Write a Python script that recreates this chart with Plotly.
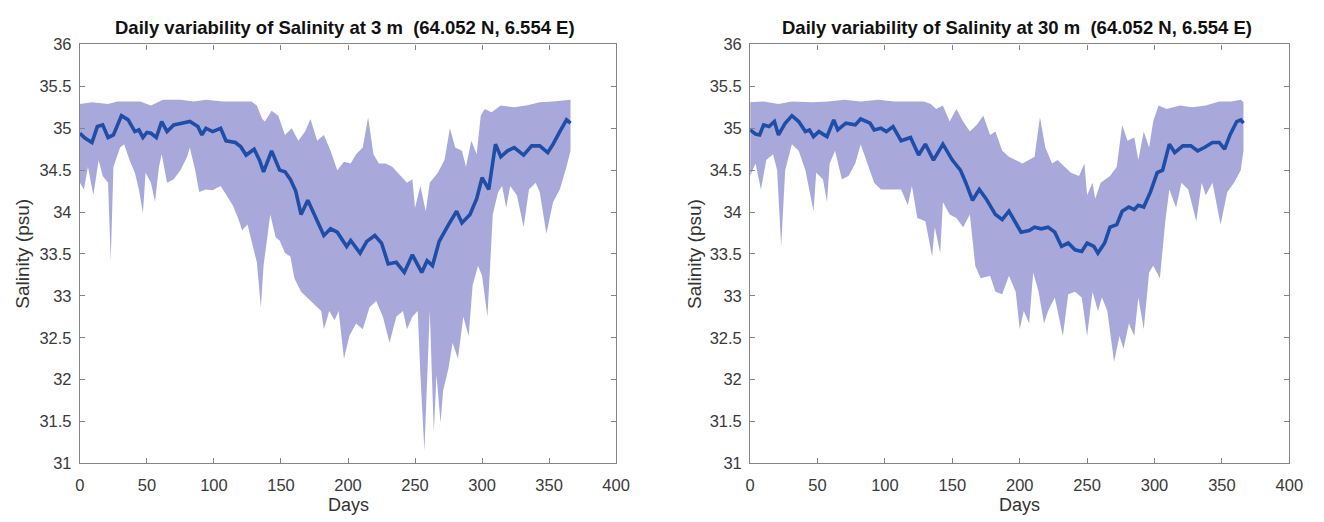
import plotly.graph_objects as go

# ---------------- Left panel: 3 m ----------------
l_mean_day = [0, 4, 9, 13, 17, 21, 25, 28, 31, 36, 41, 44, 47, 50, 53, 57, 61, 65, 70, 76, 82, 88, 91, 94, 99, 105,
              109, 116, 120, 124, 130, 134, 137, 143, 149, 153, 157, 161, 165, 170, 176, 182, 187, 192, 199, 202,
              209, 214, 220, 225, 230, 236, 242, 248, 255, 259, 263, 268, 275, 281, 285, 291, 296, 300, 305, 310,
              314, 319, 324, 331, 337, 343, 349, 353, 358, 363, 366]
l_mean = [34.94, 34.88, 34.83, 35.02, 35.04, 34.89, 34.92, 35.05, 35.15, 35.10, 34.96, 34.98, 34.89, 34.95, 34.94,
          34.89, 35.08, 34.96, 35.04, 35.06, 35.08, 35.02, 34.92, 35.00, 34.96, 35.00, 34.85, 34.83, 34.78, 34.68,
          34.75, 34.62, 34.48, 34.73, 34.50, 34.48, 34.39, 34.25, 33.97, 34.14, 33.92, 33.72, 33.80, 33.76, 33.59,
          33.66, 33.51, 33.65, 33.72, 33.63, 33.38, 33.40, 33.28, 33.49, 33.28, 33.42, 33.36, 33.65, 33.85, 34.01,
          33.87, 33.97, 34.16, 34.41, 34.27, 34.81, 34.66, 34.73, 34.77, 34.68, 34.79, 34.79, 34.71, 34.81, 34.96,
          35.10, 35.06]

l_up_day = [0, 9, 21, 28, 36, 45, 53, 62, 75, 85, 94, 107, 119, 128, 132, 136, 138, 143, 148, 153, 158, 163, 168,
            172, 177, 182, 187, 192, 197, 202, 206, 211, 215, 219, 223, 228, 233, 239, 244, 248, 250, 254, 258, 261,
            267, 272, 276, 280, 285, 288, 292, 296, 299, 302, 307, 314, 324, 333, 343, 353, 363, 366]
l_up = [35.29, 35.31, 35.29, 35.32, 35.32, 35.32, 35.27, 35.34, 35.34, 35.32, 35.34, 35.32, 35.32, 35.32, 35.27,
        35.11, 35.08, 35.21, 35.15, 34.92, 35.00, 34.85, 34.96, 35.11, 34.85, 34.92, 34.73, 34.50, 34.60, 34.58,
        34.69, 34.77, 35.13, 34.69, 34.58, 34.58, 34.54, 34.43, 34.35, 34.39, 34.05, 34.31, 34.01, 34.35, 34.47,
        34.62, 35.00, 34.77, 34.73, 34.54, 34.85, 34.69, 35.15, 35.23, 35.19, 35.27, 35.25, 35.27, 35.31, 35.32,
        35.34, 35.34]

l_lo_day = [0, 3, 6, 10, 14, 17, 21, 23, 25, 30, 33, 37, 41, 44, 47, 49, 53, 56, 59, 61, 65, 70, 75, 80, 82, 86,
            89, 94, 99, 105, 109, 114, 118, 121, 125, 129, 132, 135, 137, 142, 146, 149, 153, 157, 160, 165, 170,
            175, 180, 182, 186, 190, 193, 197, 201, 206, 211, 216, 221, 226, 231, 236, 241, 244, 248, 252, 254, 257,
            259, 261, 264, 266, 269, 271, 275, 278, 282, 286, 290, 293, 297, 300, 304, 308, 312, 315, 318, 321, 326,
            331, 335, 340, 343, 348, 353, 358, 363, 366]
l_lo = [34.35, 34.27, 34.54, 34.20, 34.62, 34.43, 34.35, 33.42, 34.54, 34.77, 34.81, 34.62, 34.47, 34.27, 33.99,
        34.47, 34.35, 34.12, 34.54, 34.69, 34.35, 34.39, 34.50, 34.66, 34.77, 34.50, 34.24, 34.27, 34.26, 34.31,
        34.20, 34.08, 33.93, 33.78, 33.85, 33.59, 33.40, 32.86, 33.36, 33.97, 33.70, 33.66, 33.51, 33.47, 33.21,
        33.05, 32.98, 32.90, 32.82, 32.60, 32.82, 32.71, 32.82, 32.25, 32.52, 32.67, 32.60, 32.86, 32.94, 32.75,
        32.44, 32.75, 32.82, 32.60, 32.75, 32.82, 32.06, 31.15, 32.06, 32.82, 31.37, 32.06, 31.49, 31.87, 32.14,
        32.44, 32.25, 32.75, 32.52, 33.13, 33.36, 33.24, 32.75, 33.97, 34.24, 34.31, 34.05, 34.31, 34.20, 33.82,
        34.27, 34.35, 34.24, 33.74, 34.12, 34.27, 34.54, 34.73]

# ---------------- Right panel: 30 m ----------------
r_mean_day = [0, 4, 7, 10, 14, 18, 21, 26, 31, 36, 41, 44, 47, 51, 54, 57, 62, 65, 71, 78, 82, 89, 92, 97, 101, 106,
              112, 119, 125, 130, 136, 143, 150, 156, 160, 165, 170, 175, 182, 187, 192, 196, 201, 207, 211, 216,
              221, 226, 231, 236, 241, 246, 250, 255, 258, 263, 267, 272, 276, 281, 285, 288, 292, 297, 302, 306,
              311, 315, 321, 327, 332, 337, 343, 348, 352, 356, 361, 364, 366]
r_mean = [34.98, 34.93, 34.92, 35.04, 35.02, 35.08, 34.92, 35.06, 35.15, 35.08, 34.96, 34.98, 34.90, 34.96, 34.93,
          34.90, 35.10, 34.98, 35.06, 35.04, 35.11, 35.06, 34.98, 35.00, 34.96, 35.02, 34.85, 34.89, 34.68, 34.81,
          34.62, 34.81, 34.62, 34.50, 34.35, 34.14, 34.27, 34.16, 33.97, 33.91, 34.01, 33.89, 33.76, 33.78, 33.82,
          33.80, 33.82, 33.76, 33.59, 33.63, 33.55, 33.53, 33.63, 33.59, 33.51, 33.63, 33.82, 33.85, 34.01, 34.06,
          34.03, 34.08, 34.06, 34.24, 34.47, 34.50, 34.81, 34.71, 34.79, 34.79, 34.73, 34.77, 34.83, 34.83, 34.75,
          34.92, 35.08, 35.10, 35.06]

r_up_day = [0, 10, 21, 31, 46, 58, 70, 82, 95, 107, 119, 129, 134, 138, 143, 148, 153, 158, 163, 168, 173, 178,
            182, 187, 192, 197, 202, 211, 215, 219, 224, 228, 233, 238, 244, 248, 250, 254, 256, 260, 267, 272, 276,
            280, 285, 288, 292, 296, 299, 303, 309, 319, 328, 338, 348, 357, 364, 366]
r_up = [35.31, 35.32, 35.29, 35.32, 35.31, 35.32, 35.34, 35.32, 35.34, 35.32, 35.32, 35.32, 35.29, 35.23, 35.27,
        35.08, 35.23, 35.08, 34.96, 35.04, 35.15, 34.92, 34.96, 34.73, 34.66, 34.62, 34.58, 34.66, 35.13, 34.77,
        34.58, 34.62, 34.54, 34.47, 34.43, 34.58, 34.20, 34.35, 34.16, 34.35, 34.43, 34.54, 35.04, 34.85, 34.89,
        34.62, 34.96, 34.77, 35.08, 35.27, 35.23, 35.27, 35.25, 35.27, 35.32, 35.32, 35.34, 35.31]

r_lo_day = [0, 4, 8, 12, 17, 20, 23, 26, 31, 36, 41, 47, 49, 54, 57, 59, 63, 68, 73, 78, 82, 87, 92, 97, 104, 112,
            117, 120, 124, 130, 135, 137, 141, 143, 148, 153, 158, 163, 167, 171, 178, 182, 187, 192, 197, 200, 203,
            207, 210, 214, 218, 221, 226, 232, 236, 241, 246, 250, 254, 258, 261, 265, 270, 274, 277, 281, 285, 288,
            292, 296, 299, 304, 308, 311, 316, 320, 325, 331, 335, 338, 343, 349, 354, 359, 364, 366]
r_lo = [34.43, 34.58, 34.27, 34.62, 34.69, 34.50, 33.59, 34.50, 34.81, 34.73, 34.50, 34.01, 34.47, 34.39, 34.12,
        34.58, 34.73, 34.39, 34.43, 34.58, 34.81, 34.58, 34.35, 34.27, 34.27, 34.27, 34.08, 34.31, 33.93, 33.89,
        33.47, 33.82, 33.51, 34.12, 33.97, 33.93, 33.82, 33.97, 33.36, 33.21, 33.24, 33.05, 33.02, 33.24, 33.05,
        32.60, 32.82, 32.67, 33.28, 33.05, 32.67, 32.82, 32.98, 32.52, 33.02, 33.05, 32.98, 32.52, 33.05, 32.82,
        32.98, 32.82, 32.21, 32.52, 32.37, 32.67, 32.52, 32.98, 32.60, 33.28, 33.36, 33.21, 33.89, 34.27, 34.05,
        34.35, 34.27, 33.89, 34.35, 34.20, 34.35, 33.85, 34.24, 34.35, 34.50, 34.73]

titles = ["Daily variability of Salinity at 3 m \u00a0(64.052 N, 6.554 E)",
          "Daily variability of Salinity at 30 m \u00a0(64.052 N, 6.554 E)"]
x_ticks = [0, 50, 100, 150, 200, 250, 300, 350, 400]
y_ticks = [31, 31.5, 32, 32.5, 33, 33.5, 34, 34.5, 35, 35.5, 36]

FILL = "rgb(168,168,218)"
LINE = "#1f4ea8"
AXC = "#858585"
FONT = "Liberation Sans, Arial, sans-serif"

panels = [
    (l_mean_day, l_mean, l_up_day, l_up, l_lo_day, l_lo),
    (r_mean_day, r_mean, r_up_day, r_up, r_lo_day, r_lo),
]

fig = go.Figure()
for i, (md, mv, ud, uv, ld, lv) in enumerate(panels):
    xa = "x" if i == 0 else "x2"
    ya = "y" if i == 0 else "y2"
    fig.add_trace(go.Scatter(
        x=list(ud) + list(ld)[::-1], y=list(uv) + list(lv)[::-1],
        fill="toself", fillcolor=FILL, line=dict(width=0), mode="lines",
        hoverinfo="skip", showlegend=False, xaxis=xa, yaxis=ya))
    fig.add_trace(go.Scatter(
        x=md, y=mv, mode="lines", line=dict(color=LINE, width=3.6, shape="linear"),
        showlegend=False, xaxis=xa, yaxis=ya))

ax_common = dict(showline=True, linecolor=AXC, linewidth=1.2, mirror="allticks", ticks="inside",
                 ticklen=5, tickcolor=AXC, showgrid=False, zeroline=False,
                 tickfont=dict(family=FONT, size=16.5, color="#3a3a3a"))

xdoms = [[76 / 1324, 620 / 1324], [756 / 1324, 1303 / 1324]]
ydom = [1 - 470.7 / 522, 1 - 36.7 / 522]

fig.update_layout(
    width=1324, height=522, margin=dict(l=0, r=0, t=0, b=0),
    paper_bgcolor="white", plot_bgcolor="white",
    xaxis=dict(domain=xdoms[0], range=[0, 400], tickvals=x_ticks, anchor="y", ticklabelstandoff=7, **ax_common),
    yaxis=dict(domain=ydom, range=[31, 36], tickvals=y_ticks, anchor="x", ticklabelstandoff=4, **ax_common),
    xaxis2=dict(domain=xdoms[1], range=[0, 400], tickvals=x_ticks, anchor="y2", ticklabelstandoff=7, **ax_common),
    yaxis2=dict(domain=ydom, range=[31, 36], tickvals=y_ticks, anchor="x2", ticklabelstandoff=4, **ax_common),
)

for i in range(2):
    cx = (xdoms[i][0] + xdoms[i][1]) / 2
    fig.add_annotation(text="<b>" + titles[i] + "</b>", x=cx - 3 / 1324, y=1 - 19 / 522, xref="paper", yref="paper",
                       showarrow=False, font=dict(family=FONT, size=18.5, color="#111"),
                       xanchor="center", yanchor="middle")
    fig.add_annotation(text="Days", x=cx, y=1 - 514 / 522, xref="paper", yref="paper",
                       showarrow=False, font=dict(family=FONT, size=18, color="#333"),
                       xanchor="center", yanchor="middle")
    lx = (18 if i == 0 else 700) / 1324
    fig.add_annotation(text="Salinity (psu)", x=lx, y=(ydom[0] + ydom[1]) / 2, xref="paper", yref="paper",
                       showarrow=False, textangle=-90, font=dict(family=FONT, size=19, color="#333"),
                       xanchor="center", yanchor="middle")

fig.write_html("out.html")
